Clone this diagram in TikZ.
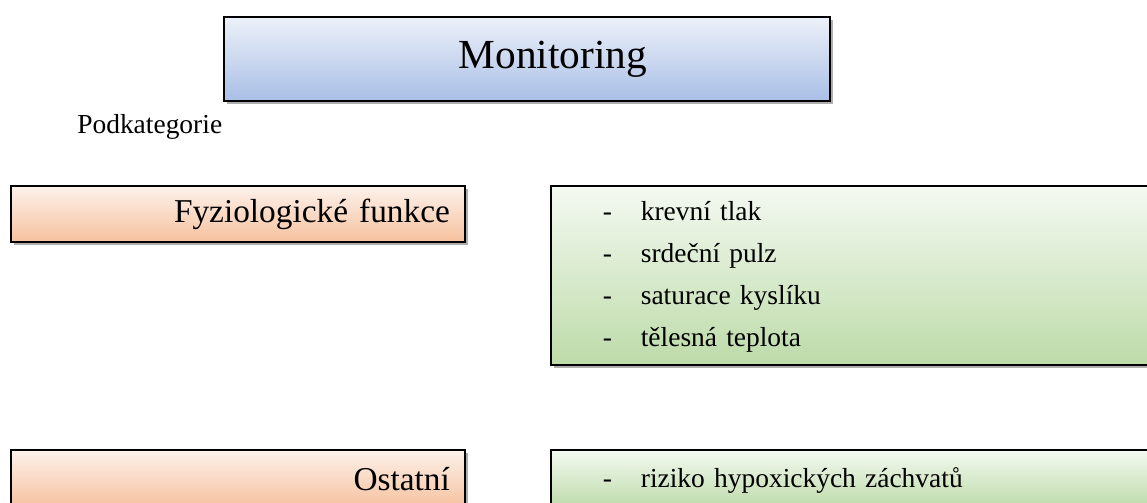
\documentclass[tikz,border=0pt]{standalone}
\usepackage{fontspec}
\setmainfont{Liberation Serif}
\usetikzlibrary{shadows}

\definecolor{blueTop}{HTML}{EDF1F9}
\definecolor{blueBot}{HTML}{A9BFE6}
\definecolor{orangeTop}{HTML}{FDF2EB}
\definecolor{orangeBot}{HTML}{F6C19E}
\definecolor{greenTop}{HTML}{F4F9F1}
\definecolor{greenBot}{HTML}{BDDBA9}

\tikzset{
  panel/.style={draw=black, line width=1.3pt, anchor=north west, inner sep=0pt,
    drop shadow={shadow xshift=2.5pt, shadow yshift=-2.5pt, opacity=0.45, fill=black!70}},
  titlebox/.style={panel, top color=blueTop, bottom color=blueBot,
    minimum width=454.5pt, minimum height=63pt},
  catbox/.style={panel, top color=orangeTop, bottom color=orangeBot,
    minimum width=340.5pt, text width=318pt, align=right,
    font=\fontsize{25pt}{30pt}\selectfont},
  itembox/.style={panel, top color=greenTop, bottom color=greenBot,
    minimum width=465pt, text width=426pt, inner xsep=39pt, align=left,
    font=\fontsize{20.6pt}{31.5pt}\selectfont},
}

\newcommand{\itemlist}[1]{\begin{tabular}{@{}p{28.5pt}@{}l@{}}#1\end{tabular}}

\begin{document}
\begin{tikzpicture}[x=0.75pt, y=-0.75pt]
  \clip (0,0) rectangle (1147,503);
  \node[titlebox] (title) at (223,16) {};
  \node[font=\fontsize{31pt}{36pt}\selectfont] (titletext) at (553,59) {Monitoring};
  \node[anchor=base west, inner sep=0pt, font=\fontsize{20.6pt}{25pt}\selectfont]
    (sub) at (77,133) {Podkategorie};

  \node[catbox, minimum height=42pt] (fyz) at (10,185) {Fyziologické funkce};
  \node[itembox, minimum height=134.25pt] (fyzlist) at (550,185)
    {\itemlist{- & krevní tlak\\ - & srdeční pulz\\ - & saturace kyslíku\\ - & tělesná teplota}};

  \node[catbox, minimum height=43.5pt] (other) at (10,449) {Ostatní};
  \node[itembox, minimum height=43.5pt] (otherlist) at (550,449)
    {\itemlist{- & riziko hypoxických záchvatů}};
\end{tikzpicture}
\end{document}
